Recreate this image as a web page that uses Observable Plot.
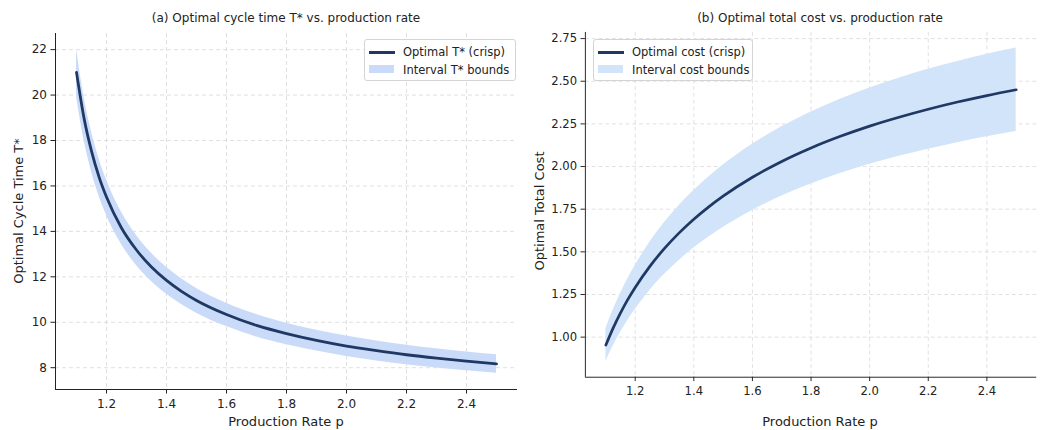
<!DOCTYPE html>
<html>
<head>
<meta charset="utf-8">
<script src="https://cdn.jsdelivr.net/npm/d3@7"></script>
<script src="https://cdn.jsdelivr.net/npm/@observablehq/plot@0.6"></script>
<style>
  html, body { margin: 0; padding: 0; background: #fff; overflow: hidden; }
  #wrap { position: relative; width: 1043px; height: 430px; overflow: hidden; font-family: "DejaVu Sans", sans-serif; color: #222; }
  .panel { position: absolute; top: 0; }
  .title { position: absolute; font-size: 12px; white-space: nowrap; transform: translate(-50%, -50%); }
  .xlab { position: absolute; font-size: 13px; white-space: nowrap; transform: translate(-50%, -50%); }
  .ylab { position: absolute; font-size: 13px; white-space: nowrap; transform: translate(-50%, -50%) rotate(-90deg); }
  .legend { position: absolute; border: 1px solid #d4d4d4; border-radius: 3px; background: rgba(255,255,255,0.85); box-sizing: border-box; font-size: 11.5px; }
  .legend .ln { position: absolute; left: 4px; width: 26px; height: 3px; background: #1f3864; }
  .legend .pt { position: absolute; left: 4px; width: 25px; height: 8px; }
  .legend .tx { position: absolute; left: 38px; transform: translateY(-50%); white-space: nowrap; }
</style>
</head>
<body>
<div id="wrap">
  <div id="left" class="panel" style="left:0px"></div>
  <div id="right" class="panel" style="left:520px"></div>
  <div class="title" style="left:286px; top:18px">(a) Optimal cycle time T* vs. production rate</div>
  <div class="title" style="left:820px; top:18px">(b) Optimal total cost vs. production rate</div>
  <div class="xlab" style="left:286px; top:421px">Production Rate p</div>
  <div class="xlab" style="left:820px; top:421px">Production Rate p</div>
  <div class="ylab" style="left:18px; top:211px">Optimal Cycle Time T*</div>
  <div class="ylab" style="left:539px; top:211px">Optimal Total Cost</div>
  <div class="legend" style="left:364px; top:39px; width:152px; height:42px">
    <div class="ln" style="top:10.5px"></div>
    <div class="tx" style="top:12px">Optimal T* (crisp)</div>
    <div class="pt" style="top:25px; background:#c9dbf9"></div>
    <div class="tx" style="top:30px">Interval T* bounds</div>
  </div>
  <div class="legend" style="left:593px; top:39px; width:160px; height:42px">
    <div class="ln" style="top:10.5px"></div>
    <div class="tx" style="top:12px">Optimal cost (crisp)</div>
    <div class="pt" style="top:25px; background:#d2e4f9"></div>
    <div class="tx" style="top:30px">Interval cost bounds</div>
  </div>
</div>
<script>
// ---- data ----
const rates = [1.1, 1.125, 1.15, 1.175, 1.2, 1.25, 1.3, 1.35, 1.4, 1.45, 1.5, 1.6, 1.7, 1.8, 1.9, 2.0, 2.1, 2.2, 2.3, 2.4, 2.5];
const tCrisp = [21.0, 18.99, 17.53, 16.40, 15.51, 14.15, 13.18, 12.43, 11.84, 11.36, 10.96, 10.34, 9.86, 9.50, 9.20, 8.95, 8.75, 8.57, 8.42, 8.29, 8.17];
const tUpper = [22.02, 19.92, 18.39, 17.20, 16.27, 14.84, 13.82, 13.04, 12.42, 11.91, 11.49, 10.84, 10.34, 9.96, 9.65, 9.39, 9.18, 8.99, 8.83, 8.69, 8.57];
const tLower = [19.92, 18.02, 16.63, 15.56, 14.71, 13.42, 12.50, 11.79, 11.23, 10.78, 10.40, 9.81, 9.35, 9.01, 8.73, 8.49, 8.30, 8.13, 7.99, 7.86, 7.75];
const cCrisp = [0.954, 1.054, 1.142, 1.221, 1.291, 1.415, 1.520, 1.611, 1.691, 1.762, 1.826, 1.937, 2.030, 2.109, 2.177, 2.237, 2.289, 2.336, 2.378, 2.416, 2.450];
const cUpper = [1.049, 1.160, 1.256, 1.343, 1.420, 1.557, 1.672, 1.772, 1.860, 1.938, 2.009, 2.131, 2.233, 2.320, 2.395, 2.461, 2.518, 2.570, 2.616, 2.658, 2.695];
const cLower = [0.859, 0.949, 1.028, 1.099, 1.162, 1.274, 1.368, 1.450, 1.522, 1.586, 1.643, 1.743, 1.827, 1.898, 1.959, 2.013, 2.060, 2.102, 2.140, 2.174, 2.205];

const xTicks = [1.2, 1.4, 1.6, 1.8, 2.0, 2.2, 2.4];
const tTicks = [8, 10, 12, 14, 16, 18, 20, 22];
const cTicks = [1.00, 1.25, 1.50, 1.75, 2.00, 2.25, 2.50, 2.75];
const xDomain = [1.03, 2.57];
const tDomain = [7.04, 22.71];
const cDomain = [0.765, 2.786];

const tData = rates.map((p, i) => ({p, crisp: tCrisp[i], lo: tLower[i], hi: tUpper[i]}));
const cData = rates.map((p, i) => ({p, crisp: cCrisp[i], lo: cLower[i], hi: cUpper[i]}));

function panel({data, yDomain, yTicks, yFormat, width, marginLeft, marginRight, fill}) {
  return Plot.plot({
    width, height: 430,
    marginLeft, marginRight, marginTop: 33, marginBottom: 41,
    style: {fontFamily: "DejaVu Sans, sans-serif", fontSize: "12px", color: "#222", background: "transparent", overflow: "visible"},
    x: {domain: xDomain, label: null},
    y: {domain: yDomain, label: null},
    marks: [
      Plot.gridX(xTicks, {stroke: "#c8c8c8", strokeOpacity: 0.7, strokeDasharray: "4,3", strokeWidth: 0.8}),
      Plot.gridY(yTicks, {stroke: "#c8c8c8", strokeOpacity: 0.7, strokeDasharray: "4,3", strokeWidth: 0.8}),
      Plot.areaY(data, {x: "p", y1: "lo", y2: "hi", fill, curve: "monotone-x"}),
      Plot.lineY(data, {x: "p", y: "crisp", stroke: "#1f3864", strokeWidth: 2.8, curve: "monotone-x"}),
      Plot.axisX(xTicks, {tickSize: 4.5, tickPadding: 5, tickFormat: d3.format(".1f"), label: null, stroke: "#222"}),
      Plot.axisY(yTicks, {tickSize: 4.5, tickPadding: 4, tickFormat: yFormat, label: null, stroke: "#222"}),
      Plot.ruleX([xDomain[0]], {stroke: "#222", strokeWidth: 1}),
      Plot.ruleY([yDomain[0]], {stroke: "#222", strokeWidth: 1})
    ]
  });
}

document.getElementById("left").append(panel({
  data: tData, yDomain: tDomain, yTicks: tTicks, yFormat: d3.format("d"),
  width: 530, marginLeft: 55, marginRight: 13, fill: "#c9dbf9"
}));
document.getElementById("right").append(panel({
  data: cData, yDomain: cDomain, yTicks: cTicks, yFormat: d3.format(".2f"),
  width: 540, marginLeft: 67, marginRight: 7, fill: "#d2e4f9"
}));
</script>
</body>
</html>
